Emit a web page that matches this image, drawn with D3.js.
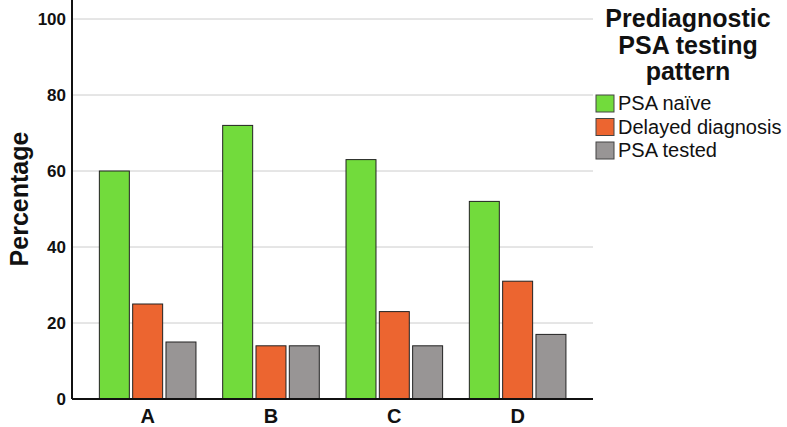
<!DOCTYPE html>
<html>
<head>
<meta charset="utf-8">
<script src="https://cdn.jsdelivr.net/npm/d3@7"></script>
<style>
  body { margin: 0; background: #fff; }
  svg { font-family: "Liberation Sans", Arial, sans-serif; }
</style>
</head>
<body>
<script>
var categories = ["A", "B", "C", "D"];
var seriesNames = ["PSA naïve", "Delayed diagnosis", "PSA tested"];
var psaNaive = [60, 72, 63, 52];
var delayedDiagnosis = [25, 14, 23, 31];
var psaTested = [15, 14, 14, 17];
var yTicks = [0, 20, 40, 60, 80, 100];
var colors = ["#72db3c", "#ec6530", "#989595"];

var width = 787;
var height = 427;
var plotLeft = 72, plotRight = 593, plotTop = 19, plotBottom = 399;

var series = [psaNaive, delayedDiagnosis, psaTested];

var svg = d3.select("body").append("svg")
    .attr("width", width)
    .attr("height", height);

var y = d3.scaleLinear().domain([0, 100]).range([plotBottom, plotTop]);
var x = d3.scaleBand().domain(categories).range([86, 579.3]).padding(0);
var xInner = d3.scaleBand().domain(d3.range(3)).range([-48.3, 48.3]).paddingInner(0.1).paddingOuter(0);

// gridlines
svg.append("g")
    .selectAll("line")
    .data(yTicks.filter(function (d) { return d > 0; }))
    .enter()
    .append("line")
    .attr("x1", plotLeft)
    .attr("x2", plotRight)
    .attr("y1", function (d) { return y(d); })
    .attr("y2", function (d) { return y(d); })
    .style("stroke", "#cccccc")
    .style("stroke-width", 1);

// bars
var groups = svg.append("g")
    .selectAll("g")
    .data(categories)
    .enter()
    .append("g")
    .attr("transform", function (d) { return "translate(" + (x(d) + x.bandwidth() / 2) + ",0)"; });

groups.selectAll("rect")
    .data(function (d, i) {
        return series.map(function (s, j) { return { k: j, v: s[i] }; });
    })
    .enter()
    .append("rect")
    .attr("x", function (d) { return xInner(d.k); })
    .attr("width", xInner.bandwidth())
    .attr("y", function (d) { return y(d.v); })
    .attr("height", function (d) { return plotBottom - y(d.v); })
    .style("fill", function (d) { return colors[d.k]; })
    .style("stroke", "#222")
    .style("stroke-width", 1);

// y axis
var yAxis = svg.append("g")
    .attr("transform", "translate(" + plotLeft + ",0)")
    .call(d3.axisLeft(y).tickValues(yTicks).tickSize(0).tickPadding(6));
yAxis.select(".domain").attr("d", "M0,0V" + plotBottom).style("stroke", "#111").style("stroke-width", 2);
yAxis.selectAll("text")
    .style("font-size", "17px")
    .style("font-weight", "bold")
    .style("fill", "#111")
    .attr("dy", "0.35em");

// x axis
var xAxis = svg.append("g")
    .attr("transform", "translate(0," + plotBottom + ")")
    .call(d3.axisBottom(x).tickSize(0).tickPadding(10));
xAxis.select(".domain").attr("d", "M" + plotLeft + ",0H" + plotRight).style("stroke", "#111").style("stroke-width", 2);
xAxis.selectAll("text")
    .style("font-size", "20px")
    .style("font-weight", "bold")
    .style("fill", "#111");

// y title
svg.append("text")
    .attr("transform", "translate(28,199) rotate(-90)")
    .style("text-anchor", "middle")
    .style("font-size", "25px")
    .style("font-weight", "bold")
    .style("fill", "#111")
    .text("Percentage");

// legend
var legendTitle = ["Prediagnostic", "PSA testing", "pattern"];
svg.append("g")
    .selectAll("text")
    .data(legendTitle)
    .enter()
    .append("text")
    .attr("x", 688)
    .attr("y", function (d, i) { return 27 + i * 26.5; })
    .style("text-anchor", "middle")
    .style("font-size", "25px")
    .style("font-weight", "bold")
    .style("fill", "#111")
    .text(function (d) { return d; });

var legend = svg.append("g")
    .selectAll("g")
    .data(seriesNames)
    .enter()
    .append("g")
    .attr("transform", function (d, i) { return "translate(596," + (95 + i * 23.5) + ")"; });

legend.append("rect")
    .attr("width", 18)
    .attr("height", 17)
    .style("fill", function (d, i) { return colors[i]; })
    .style("stroke", "#444")
    .style("stroke-width", 1);

legend.append("text")
    .attr("x", 22)
    .attr("y", 15)
    .style("font-size", "20px")
    .style("fill", "#111")
    .text(function (d) { return d; });
</script>
</body>
</html>
